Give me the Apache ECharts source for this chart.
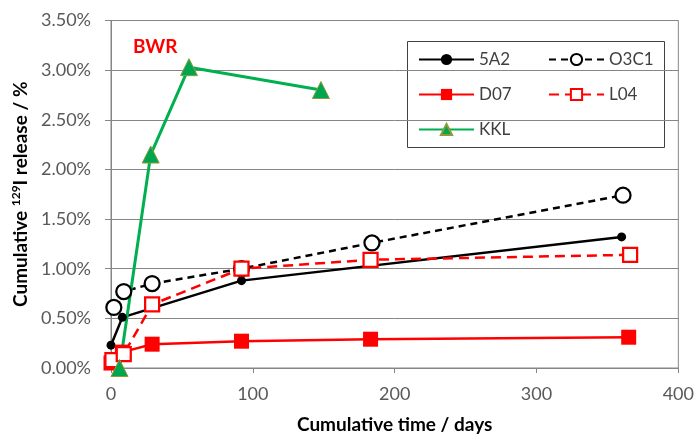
<!DOCTYPE html>
<html>
<head>
<meta charset="utf-8">
<script src="https://cdn.jsdelivr.net/npm/echarts@6/dist/echarts.min.js"></script>
<style>html,body{margin:0;padding:0;background:#fff}#c{width:697px;height:439px}</style>
</head>
<body>
<div id="c"></div>
<script>
// Data (cumulative time in days, cumulative 129I release in %)
const s5A2 = [[0, 0.23], [8, 0.51], [92, 0.88], [360, 1.32]];
const sO3C1 = [[2, 0.61], [9, 0.77], [29, 0.85], [92, 1.00], [184, 1.26], [361, 1.74]];
const sD07 = [[0, 0.05], [8, 0.16], [29, 0.24], [92, 0.27], [183, 0.29], [365, 0.31]];
const sL04 = [[1, 0.08], [9, 0.14], [29, 0.64], [92, 1.00], [183, 1.09], [366, 1.14]];
const sKKL = [[6, 0.00], [28, 2.15], [55, 3.03], [148, 2.80]];
const xTicks = [0, 100, 200, 300, 400];
const yTicks = [0, 0.5, 1.0, 1.5, 2.0, 2.5, 3.0, 3.5];

const FONT = 'Lato, "Open Sans", sans-serif';
const chart = echarts.init(document.getElementById('c'), null, {renderer: 'canvas'});

function legendAt(name, left, top) {
  return {
    data: [name], left: left, top: top, padding: 0,
    itemWidth: 55, itemHeight: 14,
    textStyle: {fontFamily: FONT, fontSize: 17, color: '#404040'}
  };
}

chart.setOption({
  animation: false,
  backgroundColor: '#fff',
  grid: {left: 111, right: 18, top: 20.5, bottom: 71, show: true, borderColor: '#868686', borderWidth: 1},
  xAxis: {
    type: 'value', min: xTicks[0], max: xTicks[xTicks.length - 1], interval: 100,
    name: 'Cumulative time / days', nameLocation: 'middle', nameGap: 47,
    nameTextStyle: {fontFamily: FONT, fontSize: 19, fontWeight: 'bold', color: '#000'},
    axisLine: {lineStyle: {color: '#868686', width: 1}},
    axisTick: {show: true, length: 5, lineStyle: {color: '#868686'}},
    splitLine: {show: false},
    axisLabel: {fontFamily: FONT, fontSize: 18, color: '#595959', margin: 17}
  },
  yAxis: {
    type: 'value', min: yTicks[0], max: yTicks[yTicks.length - 1], interval: 0.5,
    name: '{a|Cumulative }{s|129}{a|I release / %}', nameLocation: 'middle', nameGap: 71, nameRotate: 90,
    nameTextStyle: {
      rich: {
        a: {fontFamily: FONT, fontSize: 19, fontWeight: 'bold', color: '#000'},
        s: {fontFamily: FONT, fontSize: 12, fontWeight: 'bold', color: '#000', verticalAlign: 'top', padding: [0, 0, 9, 0]}
      }
    },
    axisLine: {show: true, lineStyle: {color: '#868686', width: 1}},
    axisTick: {show: true, length: 6, lineStyle: {color: '#868686'}},
    splitLine: {show: true, lineStyle: {color: '#868686', width: 1}},
    axisLabel: {fontFamily: FONT, fontSize: 18, color: '#595959', margin: 20,
      formatter: v => v.toFixed(2) + '%'}
  },
  legend: [
    legendAt('5A2', 418, 51),
    legendAt('O3C1', 548, 51),
    legendAt('D07', 418, 86),
    legendAt('L04', 548, 86),
    legendAt('KKL', 418, 121)
  ],
  graphic: [
    {type: 'rect', left: 407, top: 41, z: 0, shape: {width: 257, height: 106},
     style: {fill: '#fff', stroke: '#404040', lineWidth: 1}},
    {type: 'text', left: 133, top: 37, z: 10,
     style: {text: 'BWR', fill: '#ff0000', font: 'bold 19px ' + FONT}}
  ],
  series: [
    {name: '5A2', type: 'line', data: s5A2, symbol: 'circle', symbolSize: 9,
     lineStyle: {color: '#000', width: 2.5}, itemStyle: {color: '#000'}},
    {name: 'O3C1', type: 'line', data: sO3C1, symbol: 'circle', symbolSize: 15,
     lineStyle: {color: '#000', width: 2.5, type: [7, 5]},
     itemStyle: {color: '#fff', borderColor: '#000', borderWidth: 2.25}},
    {name: 'D07', type: 'line', data: sD07, symbol: 'rect', symbolSize: 15,
     lineStyle: {color: '#ff0000', width: 2.5}, itemStyle: {color: '#ff0000'}},
    {name: 'L04', type: 'line', data: sL04, symbol: 'rect', symbolSize: 14,
     lineStyle: {color: '#ff0000', width: 2.5, type: [10, 6]},
     itemStyle: {color: '#fff', borderColor: '#ff0000', borderWidth: 2.25}},
    {name: 'KKL', type: 'line', data: sKKL, symbol: 'triangle', symbolSize: 17,
     lineStyle: {color: '#00b050', width: 3}, itemStyle: {color: '#00a550', borderColor: '#8f9a3c', borderWidth: 1}}
  ]
});
</script>
</body>
</html>
